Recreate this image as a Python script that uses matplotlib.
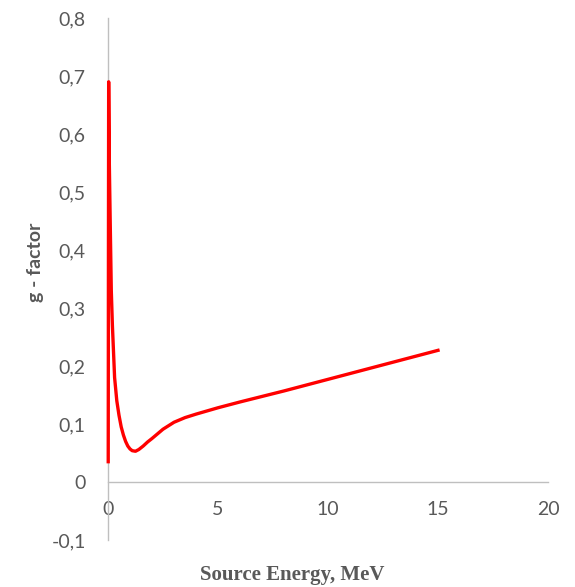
import matplotlib
matplotlib.use("Agg")
import numpy as np
import matplotlib.pyplot as plt
from matplotlib.ticker import FixedLocator, FuncFormatter

# source energy (MeV) and g-factor
energy = [0.01, 0.02, 0.03, 0.06, 0.1, 0.15, 0.2, 0.3, 0.4, 0.5, 0.6, 0.7, 0.8, 0.9,
          1.0, 1.1, 1.25, 1.4, 1.6, 1.8, 2.0, 2.5, 3.0, 3.5, 4.0, 5.0, 6.0, 8.0,
          10.0, 12.0, 15.0]
g_factor = [0.035, 0.40, 0.69, 0.55, 0.45, 0.33, 0.27, 0.18, 0.14, 0.115, 0.095, 0.081,
            0.07, 0.062, 0.057, 0.054, 0.053, 0.056, 0.062, 0.069, 0.075, 0.091, 0.103,
            0.111, 0.117, 0.128, 0.138, 0.157, 0.177, 0.197, 0.227]

x_ticks = [0, 5, 10, 15, 20]
y_ticks = [-0.1, 0, 0.1, 0.2, 0.3, 0.4, 0.5, 0.6, 0.7, 0.8]

grey = "#595959"
axis_grey = "#BFBFBF"

fig = plt.figure(figsize=(5.75, 5.87), dpi=100)
ax = fig.add_axes([108 / 575, 1 - 540 / 587, 440 / 575, 522 / 587])

ax.plot(energy, g_factor, color="#FF0000", linewidth=2.4, solid_joinstyle="round",
        zorder=3, clip_on=False)

ax.set_xlim(0, 20)
ax.set_ylim(-0.1, 0.8)
ax.xaxis.set_major_locator(FixedLocator(x_ticks))
ax.yaxis.set_major_locator(FixedLocator(y_ticks))

def comma(v, pos):
    if abs(v) < 1e-9:
        return "0"
    return f"{v:.1f}".replace(".", ",")

ax.yaxis.set_major_formatter(FuncFormatter(comma))
ax.xaxis.set_major_formatter(FuncFormatter(lambda v, p: f"{v:g}"))

for s in ["top", "right"]:
    ax.spines[s].set_visible(False)
ax.spines["bottom"].set_position(("data", 0))
ax.spines["bottom"].set_color(axis_grey)
ax.spines["left"].set_color(axis_grey)
ax.spines["bottom"].set_linewidth(1.0)
ax.spines["left"].set_linewidth(1.0)

ax.tick_params(axis="both", length=0, labelsize=14, labelcolor=grey)
ax.tick_params(axis="y", pad=16)
ax.tick_params(axis="x", pad=14)
for lab in ax.get_xticklabels() + ax.get_yticklabels():
    lab.set_family(["Lato", "DejaVu Sans"])

fig.text(292 / 575, 1 - 575 / 587, "Source Energy, MeV", ha="center", va="center",
         fontsize=15, fontweight="bold", color=grey, family="Liberation Serif")
fig.text(36 / 575, 1 - 262 / 587, "g - factor", ha="center", va="center",
         rotation=90, fontsize=14, fontweight="bold", color=grey, family=["Lato", "DejaVu Sans"])

fig.savefig("out.png", dpi=100)
